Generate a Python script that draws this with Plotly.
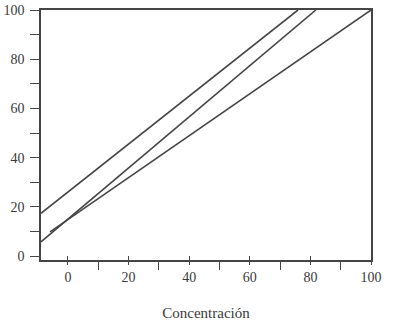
import plotly.graph_objects as go

# Data
line_a_x = [-8.9, 75.9]
line_a_y = [17.4, 100]
line_b_x = [-8.9, 81.8]
line_b_y = [5.8, 100]
line_c_x = [-5.9, 100]
line_c_y = [9.8, 100]

x_ticks = [0, 20, 40, 60, 80, 100]
x_minor = [10, 30, 50, 70, 90]
y_ticks = [0, 20, 40, 60, 80, 100]
y_minor = [10, 30, 50, 70, 90]
x_title = "Concentración"

INK = "#454545"
FAMILY = "Liberation Serif, Times New Roman, serif"
TICKFONT = dict(family=FAMILY, size=14, color="#3a3a3a")
TITLEFONT = dict(family=FAMILY, size=15, color="#3a3a3a")

fig = go.Figure()
for xs, ys in [(line_a_x, line_a_y), (line_b_x, line_b_y), (line_c_x, line_c_y)]:
    fig.add_trace(go.Scatter(x=xs, y=ys, mode="lines",
                             line=dict(color=INK, width=1.6),
                             showlegend=False, hoverinfo="skip"))

# invisible trace on overlay axis for crossing tick marks
fig.add_trace(go.Scatter(x=[x_ticks[0]], y=[y_ticks[0]], xaxis="x2", mode="markers",
                         marker=dict(opacity=0), showlegend=False, hoverinfo="skip"))

xr = [-8.9, 100]
yr = [-1.6, 100]

fig.update_layout(
    width=400, height=321,
    margin=dict(l=41, r=29, t=10, b=61, autoexpand=False),
    paper_bgcolor="white", plot_bgcolor="white",
    font=TICKFONT,
    xaxis=dict(range=xr, tickmode="array", tickvals=x_ticks,
               ticktext=[str(v) for v in x_ticks], tickfont=TICKFONT,
               ticks="outside", ticklen=3, tickwidth=1.4, tickcolor=INK,
               minor=dict(tickmode="array", tickvals=x_minor, ticks="outside",
                          ticklen=8, tickwidth=1.4, tickcolor=INK),
               showline=True, linecolor=INK, linewidth=1.6, mirror=True,
               showgrid=False, zeroline=False, automargin=False,
               title=dict(text=x_title, standoff=24, font=TITLEFONT),
               ticklabelstandoff=0),
    xaxis2=dict(range=xr, overlaying="x", anchor="y", side="bottom",
                tickmode="array", tickvals=x_ticks, ticks="inside", ticklen=4,
                tickwidth=1.4, tickcolor=INK, showticklabels=False,
                showline=False, showgrid=False, zeroline=False, automargin=False),
    yaxis=dict(range=yr, tickmode="array", tickvals=y_ticks,
               ticktext=[str(v) for v in y_ticks], tickfont=TICKFONT,
               ticks="outside", ticklen=9, tickwidth=1.4, tickcolor=INK,
               minor=dict(tickmode="array", tickvals=y_minor, ticks="outside",
                          ticklen=9, tickwidth=1.4, tickcolor=INK),
               showline=True, linecolor=INK, linewidth=1.6, mirror=True,
               showgrid=False, zeroline=False, automargin=False,
               ticklabelstandoff=3),
)

fig.write_html("out.html")
